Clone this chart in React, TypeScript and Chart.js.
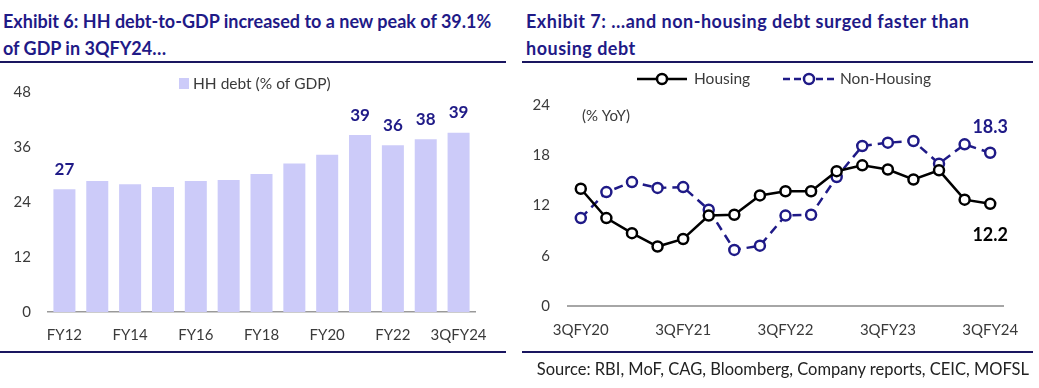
import React, { useEffect, useRef } from 'react';
import { Chart, registerables } from 'chart.js';

Chart.register(...registerables);

const debtYears = ['FY12', 'FY13', 'FY14', 'FY15', 'FY16', 'FY17', 'FY18', 'FY19', 'FY20', 'FY21', 'FY22', 'FY23', '3QFY24'];
const hhDebt = [26.8, 28.6, 27.9, 27.3, 28.6, 28.8, 30.1, 32.4, 34.3, 38.6, 36.4, 37.7, 39.1];
const hhDebtLabels = ['27', '', '', '', '', '', '', '', '', '39', '36', '38', '39'];

const quarters = ['3QFY20', '4QFY20', '1QFY21', '2QFY21', '3QFY21', '4QFY21', '1QFY22', '2QFY22', '3QFY22', '4QFY22', '1QFY23', '2QFY23', '3QFY23', '4QFY23', '1QFY24', '2QFY24', '3QFY24'];
const housing = [14.0, 10.5, 8.7, 7.1, 8.0, 10.8, 10.9, 13.2, 13.7, 13.7, 16.1, 16.8, 16.3, 15.1, 16.2, 12.7, 12.2];
const nonHousing = [10.5, 13.6, 14.8, 14.1, 14.2, 11.5, 6.7, 7.2, 10.8, 10.9, 15.4, 19.1, 19.5, 19.7, 17.0, 19.3, 18.3];
const housingEndLabel = '12.2';
const nonHousingEndLabel = '18.3';

const FONT = 'Lato';
const NAVY = '#1f1a87';
const TICK_COLOR = '#3a3a3a';

function LeftChart() {
  const ref = useRef<HTMLCanvasElement>(null);
  useEffect(() => {
    const labelPlugin = {
      id: 'leftLabels',
      afterDatasetsDraw(chart: any) {
        const ctx = chart.ctx;
        const meta = chart.getDatasetMeta(0);
        ctx.save();
        ctx.font = `bold 17px ${FONT}`;
        ctx.fillStyle = NAVY;
        ctx.textAlign = 'center';
        ctx.textBaseline = 'middle';
        meta.data.forEach((el: any, i: number) => {
          const t = hhDebtLabels[i];
          if (t) ctx.fillText(t, el.x, el.y - 20);
        });
        // legend
        ctx.fillStyle = '#cccbf9';
        ctx.fillRect(179, 16, 10, 11);
        ctx.font = `15.5px ${FONT}`;
        ctx.fillStyle = TICK_COLOR;
        ctx.textAlign = 'left';
        ctx.fillText('HH debt (% of GDP)', 193, 22);
        ctx.restore();
      },
    };
    const chart = new Chart(ref.current!, {
      type: 'bar',
      data: {
        labels: debtYears,
        datasets: [
          {
            label: 'HH debt (% of GDP)',
            data: hhDebt,
            backgroundColor: '#cccbf9',
            categoryPercentage: 1,
            barPercentage: 0.67,
          },
        ],
      },
      options: {
        animation: false,
        responsive: false,
        devicePixelRatio: 1,
        layout: { padding: { top: 30, right: 33, left: 0, bottom: 0 } },
        plugins: { legend: { display: false }, tooltip: { enabled: false } },
        scales: {
          x: {
            grid: { display: false, drawTicks: false },
            border: { display: true, color: '#9a9a9a', width: 1.5 },
            ticks: {
              padding: 14,
              maxRotation: 0,
              autoSkip: false,
              color: TICK_COLOR,
              font: { family: FONT, size: 15 },
              callback: (_v: any, i: number) => (i % 2 === 0 ? debtYears[i] : ''),
            },
            afterFit: (s: any) => {
              s.height = 40;
            },
          },
          y: {
            min: 0,
            max: 48,
            grid: { display: false, drawTicks: false },
            border: { display: false },
            ticks: { stepSize: 12, padding: 17, color: TICK_COLOR, font: { family: FONT, size: 15 } },
            afterFit: (s: any) => {
              s.width = 48;
            },
          },
        },
      },
      plugins: [labelPlugin],
    });
    return () => chart.destroy();
  }, []);
  return <canvas ref={ref} width={508} height={290} style={{ position: 'absolute', left: 0, top: 62 }} />;
}

function RightChart() {
  const ref = useRef<HTMLCanvasElement>(null);
  useEffect(() => {
    const extras = {
      id: 'rightExtras',
      afterDatasetsDraw(chart: any) {
        const ctx = chart.ctx;
        ctx.save();
        // unit label
        ctx.font = `15px ${FONT}`;
        ctx.fillStyle = TICK_COLOR;
        ctx.textAlign = 'left';
        ctx.textBaseline = 'middle';
        ctx.fillText('(% YoY)', 62, 54);
        // end labels
        const m0 = chart.getDatasetMeta(0).data;
        const m1 = chart.getDatasetMeta(1).data;
        const l0 = m0[m0.length - 1];
        const l1 = m1[m1.length - 1];
        ctx.font = `bold 18px ${FONT}`;
        ctx.textAlign = 'center';
        ctx.fillStyle = '#000';
        ctx.fillText(housingEndLabel, l0.x, l0.y + 31);
        ctx.fillStyle = NAVY;
        ctx.fillText(nonHousingEndLabel, l1.x, l1.y - 26);
        // legend
        const ly = 17;
        ctx.lineWidth = 2.5;
        ctx.strokeStyle = '#000';
        ctx.beginPath();
        ctx.moveTo(117, ly);
        ctx.lineTo(167, ly);
        ctx.stroke();
        ctx.beginPath();
        ctx.arc(142, ly, 5, 0, Math.PI * 2);
        ctx.fillStyle = '#fff';
        ctx.fill();
        ctx.stroke();
        ctx.strokeStyle = NAVY;
        ctx.setLineDash([7, 4]);
        ctx.beginPath();
        ctx.moveTo(263, ly);
        ctx.lineTo(315, ly);
        ctx.stroke();
        ctx.setLineDash([]);
        ctx.beginPath();
        ctx.arc(289, ly, 5, 0, Math.PI * 2);
        ctx.fillStyle = '#fff';
        ctx.fill();
        ctx.stroke();
        ctx.font = `15.5px ${FONT}`;
        ctx.fillStyle = TICK_COLOR;
        ctx.textAlign = 'left';
        ctx.fillText('Housing', 174, ly);
        ctx.fillText('Non-Housing', 320, ly);
        ctx.restore();
      },
    };
    const chart = new Chart(ref.current!, {
      type: 'line',
      data: {
        labels: quarters,
        datasets: [
          {
            label: 'Housing',
            data: housing,
            borderColor: '#000',
            borderWidth: 2.5,
            pointRadius: 5,
            pointBorderWidth: 2.5,
            pointBackgroundColor: '#fff',
            pointBorderColor: '#000',
            tension: 0,
          },
          {
            label: 'Non-Housing',
            data: nonHousing,
            borderColor: NAVY,
            borderWidth: 2.5,
            borderDash: [9, 6],
            pointRadius: 5,
            pointBorderWidth: 2.5,
            pointBackgroundColor: '#fff',
            pointBorderColor: NAVY,
            tension: 0,
          },
        ],
      },
      options: {
        animation: false,
        responsive: false,
        devicePixelRatio: 1,
        layout: { padding: { top: 43, right: 36, left: 0, bottom: 0 } },
        plugins: { legend: { display: false }, tooltip: { enabled: false } },
        scales: {
          x: {
            offset: true,
            grid: { display: false, drawTicks: false },
            border: { display: true, color: '#a6a6a6', width: 2 },
            ticks: {
              padding: 15,
              maxRotation: 0,
              autoSkip: false,
              color: TICK_COLOR,
              font: { family: FONT, size: 15 },
              callback: (_v: any, i: number) => (i % 4 === 0 ? quarters[i] : ''),
            },
            afterFit: (s: any) => {
              s.height = 46;
            },
          },
          y: {
            min: 0,
            max: 24,
            grid: { display: false, drawTicks: false },
            border: { display: false },
            ticks: { stepSize: 6, padding: 18, color: TICK_COLOR, font: { family: FONT, size: 15 } },
            afterFit: (s: any) => {
              s.width = 48;
            },
          },
        },
      },
      plugins: [extras],
    });
    return () => chart.destroy();
  }, []);
  return <canvas ref={ref} width={519} height={290} style={{ position: 'absolute', left: 520, top: 62 }} />;
}

const titleStyle: React.CSSProperties = {
  position: 'absolute',
  fontFamily: FONT,
  fontWeight: 'bold',
  fontSize: 18,
  lineHeight: '27px',
  color: NAVY,
  margin: 0,
  whiteSpace: 'nowrap',
};

const rule = (left: number, top: number, width: number): React.CSSProperties => ({
  position: 'absolute',
  left,
  top,
  width,
  height: 1.5,
  background: '#1a1660',
});

export default function App() {
  return (
    <div style={{ position: 'fixed', left: 0, top: 0, width: 1039, height: 388, background: '#fff', overflow: 'hidden' }}>
      <div style={{ ...titleStyle, left: 3, top: 8 }}>
        Exhibit 6: HH debt-to-GDP increased to a new peak of 39.1%
        <br />
        of GDP in 3QFY24…
      </div>
      <div style={{ ...titleStyle, left: 526, top: 8, letterSpacing: '0.5px' }}>
        Exhibit 7: …and non-housing debt surged faster than
        <br />
        housing debt
      </div>
      <div style={rule(0, 61, 506)} />
      <div style={rule(522, 61, 511)} />
      <LeftChart />
      <RightChart />
      <div style={rule(0, 351, 506)} />
      <div style={rule(522, 351, 511)} />
      <div
        style={{
          position: 'absolute',
          right: 10,
          top: 359,
          fontFamily: FONT,
          fontSize: 16.5,
          color: '#222',
          whiteSpace: 'nowrap',
        }}
      >
        Source: RBI, MoF, CAG, Bloomberg, Company reports, CEIC, MOFSL
      </div>
    </div>
  );
}
